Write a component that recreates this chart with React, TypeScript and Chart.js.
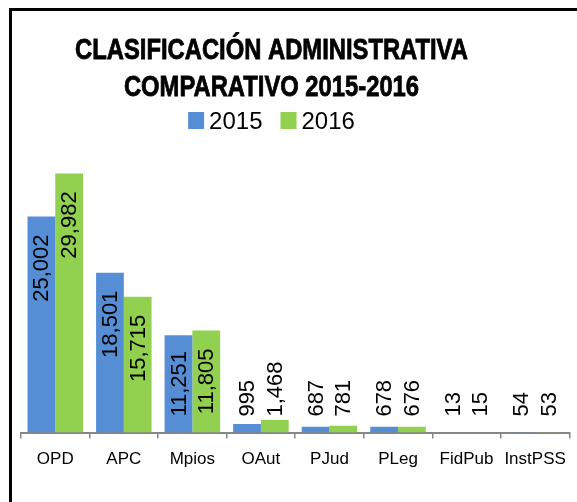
import React, { useEffect, useRef } from "react";
import { Chart, registerables } from "chart.js";

Chart.register(...registerables);

const categories = ["OPD", "APC", "Mpios", "OAut", "PJud", "PLeg", "FidPub", "InstPSS"];
const values2015 = [25002, 18501, 11251, 995, 687, 678, 13, 54];
const values2016 = [29982, 15715, 11805, 1468, 781, 676, 15, 53];
const seriesLabels = ["2015", "2016"];
const seriesColors = ["#558ED5", "#92D050"];
const titleLines = ["CLASIFICACIÓN ADMINISTRATIVA", "COMPARATIVO 2015-2016"];
const yMax = 35000;

const headerPlugin = {
  id: "header",
  afterDraw(chart: any) {
    const ctx = chart.ctx;
    const cx = chart.width / 2 - 23;
    ctx.save();
    // title (narrow bold)
    ctx.fillStyle = "#000";
    ctx.strokeStyle = "#000";
    ctx.lineWidth = 0.8;
    ctx.font = "bold 29px 'Liberation Sans', Arial, sans-serif";
    ctx.textAlign = "center";
    ctx.textBaseline = "middle";
    const lineYs = [40, 77];
    titleLines.forEach((line, i) => {
      ctx.save();
      ctx.translate(cx, lineYs[i]);
      ctx.scale(0.82, 1);
      ctx.fillText(line, 0, 0);
      ctx.strokeText(line, 0, 0);
      ctx.restore();
    });
    // legend
    ctx.font = "24px 'Liberation Sans', Arial, sans-serif";
    ctx.textAlign = "left";
    const box = 16, gap = 5, itemGap = 18;
    const ds = chart.data.datasets;
    const widths = ds.map((d: any) => ctx.measureText(d.label).width);
    let total = 0;
    widths.forEach((w: number, i: number) => {
      total += box + gap + w + (i < widths.length - 1 ? itemGap : 0);
    });
    let x = cx - total / 2;
    const ly = 110;
    ds.forEach((d: any, i: number) => {
      ctx.fillStyle = d.backgroundColor;
      ctx.fillRect(x, ly - 9, box, 17);
      ctx.fillStyle = "#000";
      ctx.fillText(d.label, x + box + gap, ly + 1);
      x += box + gap + widths[i] + itemGap;
    });
    ctx.restore();
  },
};

const labelPlugin = {
  id: "barLabels",
  afterDatasetsDraw(chart: any) {
    const ctx = chart.ctx;
    ctx.save();
    ctx.font = "22px 'Liberation Sans', Arial, sans-serif";
    ctx.fillStyle = "#000";
    ctx.textAlign = "left";
    ctx.textBaseline = "middle";
    chart.data.datasets.forEach((d: any, di: number) => {
      const meta = chart.getDatasetMeta(di);
      meta.data.forEach((el: any, i: number) => {
        const text = Number(d.data[i]).toLocaleString("en-US");
        const w = ctx.measureText(text).width;
        const { x, y, base } = el.getProps(["x", "y", "base"], true);
        let top = y + 18;
        if (top + w > base - 16) top = base - 16 - w;
        ctx.save();
        ctx.translate(x + 1, top + w);
        ctx.rotate(-Math.PI / 2);
        ctx.fillText(text, 0, 0);
        ctx.restore();
      });
    });
    ctx.restore();
  },
};

export default function App() {
  const ref = useRef<HTMLCanvasElement>(null);
  useEffect(() => {
    if (!ref.current) return;
    const chart = new Chart(ref.current, {
      type: "bar",
      data: {
        labels: categories,
        datasets: [
          { label: seriesLabels[0], data: values2015, backgroundColor: seriesColors[0] },
          { label: seriesLabels[1], data: values2016, backgroundColor: seriesColors[1] },
        ],
      },
      options: {
        responsive: false,
        animation: false,
        layout: { padding: { top: 119, left: 9, right: 3, bottom: 21 } },
        datasets: { bar: { categoryPercentage: 0.81, barPercentage: 1, borderWidth: 0 } },
        plugins: {
          legend: { display: false },
          title: { display: false },
          tooltip: { enabled: false },
        },
        scales: {
          x: {
            offset: true,
            grid: {
              offset: true,
              drawOnChartArea: false,
              drawTicks: true,
              tickLength: 6,
              color: "#868686",
              lineWidth: 1.5,
            },
            border: { display: true, color: "#868686", width: 2 },
            ticks: {
              color: "#000",
              padding: 11,
              font: { size: 17, family: "'Liberation Sans', Arial, sans-serif" },
              maxRotation: 0,
              autoSkip: false,
            },
          },
          y: { display: false, min: 0, max: yMax },
        },
      },
      plugins: [labelPlugin, headerPlugin],
    });
    return () => chart.destroy();
  }, []);
  return (
    <div
      style={{
        position: "fixed",
        left: 9,
        top: 8,
        width: 568,
        height: 494,
        boxSizing: "border-box",
        borderTop: "3px solid #000",
        borderLeft: "3px solid #000",
        background: "#fff",
      }}
    >
      <canvas ref={ref} width={565} height={491} style={{ display: "block" }} />
    </div>
  );
}
